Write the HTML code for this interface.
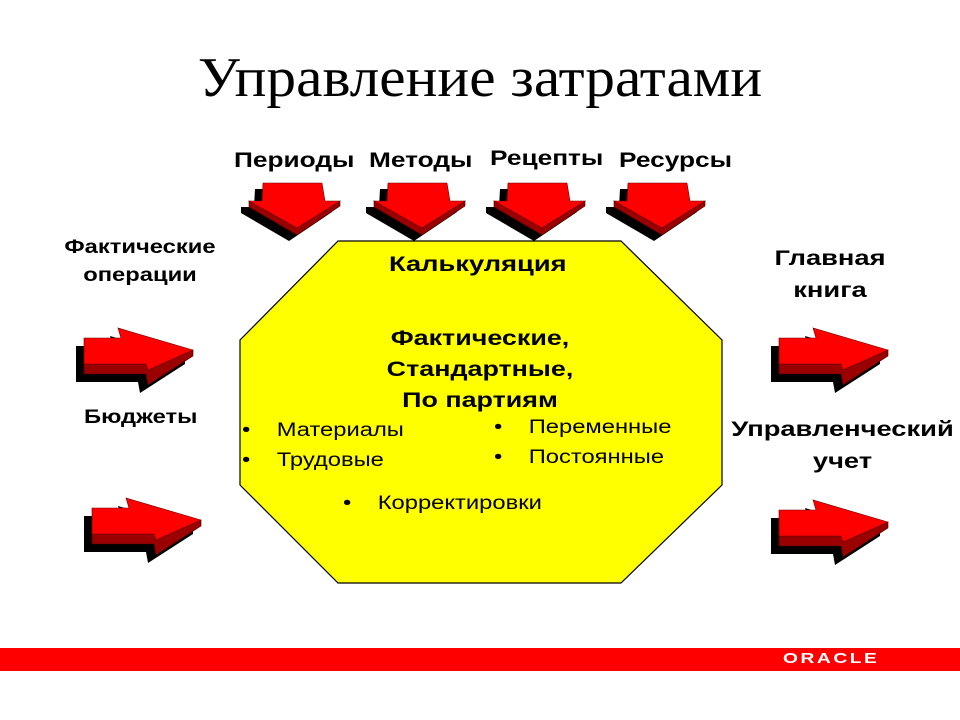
<!DOCTYPE html>
<html><head><meta charset="utf-8"><style>
body{margin:0;width:960px;height:720px;background:#fff;overflow:hidden;position:relative;font-family:"Liberation Sans",sans-serif}
.t{position:absolute;white-space:nowrap;transform:scaleX(1.25);transform-origin:left top}
.c{text-align:center;transform-origin:center top}
.b{font-weight:bold;font-size:21px}
</style></head><body>
<svg width="960" height="720" style="position:absolute;left:0;top:0">
<defs>
<g id="ra">
<polygon transform="translate(-8,8)" fill="#000" points="84,338 121,338 118,328 193,350 193,356 148,385 146,374 84,374"/>
<polygon fill="#9b0000" stroke="#400" stroke-width="0.6" points="84,364 146,364 148,370 193,350 193,356 148,385 146,374 84,374"/>
<polygon fill="#f00" stroke="#600" stroke-width="0.6" points="84,338 121,338 118,328 193,350 148,370 146,364 84,364"/>
</g>
<g id="da">
<polygon transform="translate(-8,6)" fill="#000" points="263,183 322,183 325,201 340,201 340,206 297,235 249,207 249,201 262,201"/>
<polygon fill="#9b0000" stroke="#400" stroke-width="0.6" points="249,201 297,228 340,201 340,206 297,235 249,207"/>
<polygon fill="#f00" stroke="#600" stroke-width="0.6" points="263,183 322,183 325,201 340,201 297,228 249,201 262,201"/>
</g>
</defs>
<polygon fill="#ffff00" stroke="#000" stroke-width="1.2" points="338,241 621,241 722,340 722,485 621,583 338,583 240,485 240,340"/>
<use href="#da"/>
<use href="#da" transform="translate(125,0)"/>
<use href="#da" transform="translate(245,0)"/>
<use href="#da" transform="translate(365,0)"/>
<use href="#ra"/>
<use href="#ra" transform="translate(8,170)"/>
<use href="#ra" transform="translate(695,0)"/>
<use href="#ra" transform="translate(695,172)"/>
<rect x="0" y="648" width="960" height="23" fill="#ff0000"/>
</svg>
<div class="t c" style="left:0;width:960px;top:46px;font-family:'Liberation Serif',serif;font-size:56px;transform:scaleX(1.06)">Управление затратами</div>
<div class="t b" style="left:234px;top:149px">Периоды</div>
<div class="t b" style="left:369px;top:149px">Методы</div>
<div class="t b" style="left:490px;top:147px">Рецепты</div>
<div class="t b" style="left:619px;top:149px">Ресурсы</div>
<div class="t c" style="left:40px;width:200px;top:234px;font-weight:bold;font-size:19px;line-height:28px">Фактические<br>операции</div>
<div class="t" style="left:84px;top:407px;font-weight:bold;font-size:19px">Бюджеты</div>
<div class="t c b" style="left:725px;width:210px;top:243px;line-height:32px;transform:scaleX(1.3)">Главная<br>книга</div>
<div class="t c b" style="left:725px;width:235px;top:414px;line-height:32px;transform:scaleX(1.3)">Управленческий<br>учет</div>
<div class="t b" style="left:389px;top:253px;transform:scaleX(1.3)">Калькуляция</div>
<div class="t c b" style="left:330px;width:300px;top:323px;line-height:31px;transform:scaleX(1.28)">Фактические,<br>Стандартные,<br>По партиям</div>
<div class="t" style="left:242px;top:416px;font-size:19px;line-height:30px">•&nbsp;&nbsp;&nbsp;&nbsp;Материалы<br>•&nbsp;&nbsp;&nbsp;&nbsp;Трудовые</div>
<div class="t" style="left:494px;top:413px;font-size:19px;line-height:30px">•&nbsp;&nbsp;&nbsp;&nbsp;Переменные<br>•&nbsp;&nbsp;&nbsp;&nbsp;Постоянные</div>
<div class="t" style="left:343px;top:493px;font-size:19px">•&nbsp;&nbsp;&nbsp;&nbsp;Корректировки</div>
<div class="t" style="left:783px;top:650px;color:#fff;font-weight:bold;font-size:15px;letter-spacing:2px;transform:scaleX(1.28)">ORACLE</div>
</body></html>
